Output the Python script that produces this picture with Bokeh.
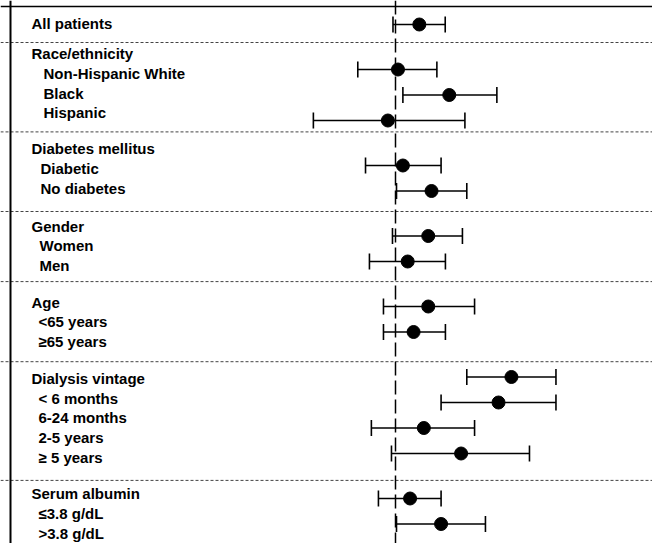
import math
from bokeh.plotting import figure
from bokeh.models import Range1d, LinearScale, Span, Whisker, ColumnDataSource, TeeHead
from bokeh.core.properties import value
from bokeh.embed import file_html
from bokeh.resources import INLINE

# ---- data ----
group_titles = ["All patients", "Race/ethnicity", "Diabetes mellitus", "Gender",
                "Age", "Dialysis vintage", "Serum albumin"]
subgroup_labels = [
    [],
    ["Non-Hispanic White", "Black", "Hispanic"],
    ["Diabetic", "No diabetes"],
    ["Women", "Men"],
    ["<65 years", "\u226565 years"],
    ["< 6 months", "6-24 months", "2-5 years", "\u2265 5 years"],
    ["\u22643.8 g/dL", ">3.8 g/dL"],
]
# hazard ratios (points) and confidence limits, one per plotted row
points_per_group = [1, 3, 2, 2, 2, 4, 2]
hr    = [1.10, 1.01, 1.24, 0.97, 1.03, 1.155, 1.14, 1.05, 1.14, 1.075, 1.59, 1.51, 1.12, 1.30, 1.06, 1.20]
ci_lo = [0.99, 0.86, 1.03, 0.72, 0.887, 1.004, 0.988, 0.901, 0.953, 0.953, 1.33, 1.20, 0.908, 0.984, 0.934, 1.004]
ci_hi = [1.22, 1.18, 1.50, 1.32, 1.20, 1.33, 1.307, 1.221, 1.372, 1.221, 1.90, 1.90, 1.372, 1.709, 1.20, 1.433]
reference_hr = 1.0

# ---- layout (pixel space of the figure) ----
W, H = 652, 543
REF_PX = 395.0        # x pixel of HR = 1
PX_PER_LN = 250.0     # pixels per natural-log unit
ROW_STEP = 19.8
header_gaps = [0, 30, 36, 37.5, 36.5, 36.5, 36]
sep_offsets = [19, 19, 23, 16, 20, 23]
indent = [0, 12, 9, 8, 7, 7, 7]

x_start = math.exp((0 - REF_PX) / PX_PER_LN)
x_end = math.exp((W - REF_PX) / PX_PER_LN)

p = figure(width=W, height=H, output_backend="svg", toolbar_location=None,
           x_axis_type="log", x_range=Range1d(x_start, x_end),
           y_range=Range1d(H, 0), x_axis_location=None, y_axis_location=None,
           min_border=0, outline_line_color=None, background_fill_color="white",
           border_fill_color="white")
p.grid.visible = False
p.extra_x_ranges = {"px": Range1d(0, W)}
p.extra_x_scales = {"px": LinearScale()}

# point rows
py = []
y = 24.0
for g, n in enumerate(points_per_group):
    if g > 0:
        y += 45.0 - 25.5
    for i in range(n):
        if not (g == 0 and i == 0):
            y += 25.5
        py.append(y)

# label rows
lab_x, lab_y, lab_t = [], [], []
seps = []
ly = 23.0
for g, title in enumerate(group_titles):
    ly += header_gaps[g]
    lab_x.append(31); lab_y.append(ly); lab_t.append(title)
    for s in subgroup_labels[g]:
        ly += ROW_STEP
        lab_x.append(31 + indent[g]); lab_y.append(ly); lab_t.append(s)
    if g < len(group_titles) - 1:
        seps.append(ly + sep_offsets[g])

for sy in seps:
    p.add_layout(Span(location=sy, dimension="width", line_color="#444444",
                      line_width=1, line_dash="3 2"))

# frame lines (top and left)
p.add_layout(Span(location=6, dimension="width", line_color="black", line_width=1.6))
p.add_layout(Span(location=10, dimension="height", line_color="black", line_width=2,
                  x_range_name="px"))

# reference line
p.add_layout(Span(location=reference_hr, dimension="height", line_color="black",
                  line_width=1.5, line_dash="14 5"))

src = ColumnDataSource(dict(y=py, hr=hr, lo=ci_lo, hi=ci_hi))
wh = Whisker(source=src, base="y", lower="lo", upper="hi", dimension="width",
             line_color="black", line_width=1.6,
             lower_head=TeeHead(size=16, line_width=1.6, line_color="black"),
             upper_head=TeeHead(size=16, line_width=1.6, line_color="black"))
p.add_layout(wh)
p.scatter(x="hr", y="y", source=src, size=13, marker="circle",
          fill_color="black", line_color="black")

p.text(x=lab_x, y=lab_y, text=lab_t, x_range_name="px",
       text_font=value("Liberation Sans"), text_font_style="bold",
       text_font_size="15px", text_baseline="middle", text_color="black")

open("out.html", "w").write(file_html(p, INLINE))
